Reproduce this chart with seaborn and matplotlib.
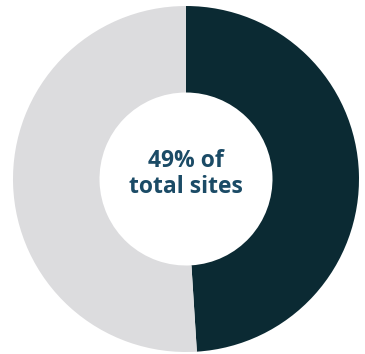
import matplotlib
matplotlib.use("Agg")
import matplotlib.pyplot as plt
import seaborn as sns

categories = ["Share of total sites", "Remaining sites"]
values = [49, 51]
center_label = "49% of\ntotal sites"

sns.set_theme(style="white")
plt.rcParams['font.family'] = ['Open Sans', 'DejaVu Sans']

colors = ["#0b2a33", "#dcdcde"]

fig = plt.figure(figsize=(3.65, 3.54), dpi=100)
ax = fig.add_axes([13/365, 2/354, 346/365, 346/354])
ax.pie(values, colors=colors, startangle=90, counterclock=False,
       radius=1.0, wedgeprops=dict(width=0.5, edgecolor="none"))
ax.set_xlim(-1, 1)
ax.set_ylim(-1, 1)
ax.set_aspect("equal")
ax.axis("off")
ax.text(0, 0.03, center_label, ha="center", va="center", fontsize=16.5,
        fontweight="bold", color="#1b4b66", linespacing=1.1)
fig.savefig("out.png", dpi=100)
